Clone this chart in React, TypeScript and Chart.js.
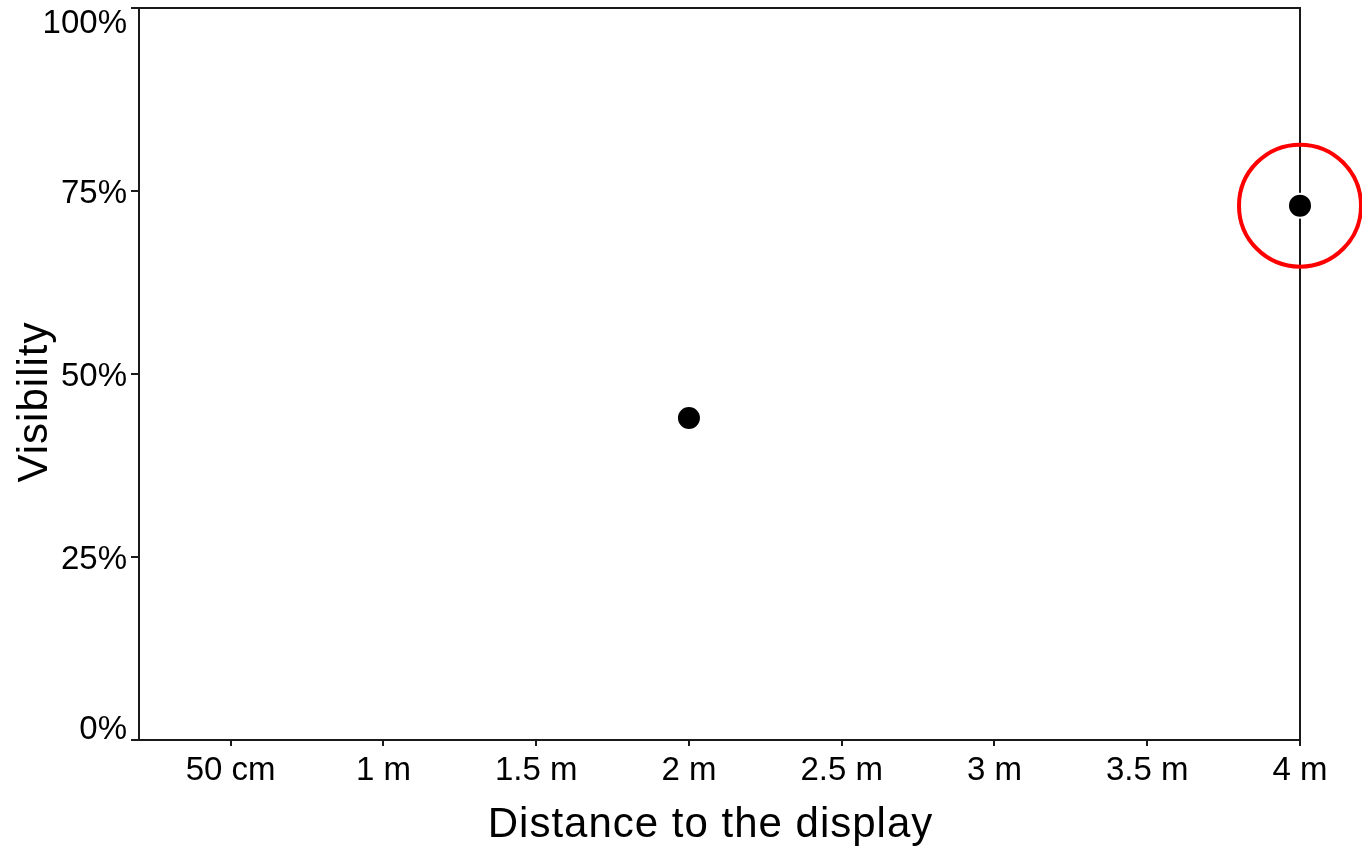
import React, { useEffect, useRef } from "react";
import { Chart, registerables } from "chart.js";

Chart.register(...registerables);

// ---- data ----
const xTickValues = [0.5, 1, 1.5, 2, 2.5, 3, 3.5, 4];
const xTickLabels = ["50 cm", "1 m", "1.5 m", "2 m", "2.5 m", "3 m", "3.5 m", "4 m"];
const yTickValues = [0, 25, 50, 75, 100];
const yTickLabels = ["0%", "25%", "50%", "75%", "100%"];
const distances = [2, 4];
const visibility = [44, 73];
const highlightDistances = [4];
const highlightVisibility = [73];
const xTitle = "Distance to the display";
const yTitle = "Visibility";
const xMin = 0.2;
const xMax = 4;
const yMin = 0;
const yMax = 100;

// ---- styles ----
const FONT_FAMILY = '"Liberation Sans", Arial, Helvetica, sans-serif';
const TICK_FONT_SIZE = 33;
const TITLE_FONT_SIZE = 42;
const AXIS_COLOR = "#1a1a1a";

const textPlugin = {
  id: "axisText",
  afterDraw(chart: any) {
    const { ctx, chartArea, scales } = chart;
    const yScale = scales.y;
    ctx.save();
    ctx.fillStyle = "#000000";
    // y tick labels, kept inside the plot's vertical extent
    ctx.font = `${TICK_FONT_SIZE}px ${FONT_FAMILY}`;
    ctx.textAlign = "right";
    ctx.textBaseline = "alphabetic";
    const half = TICK_FONT_SIZE * 0.716 / 2;
    yTickValues.forEach((v, i) => {
      const p = yScale.getPixelForValue(v);
      const c = Math.min(Math.max(p, chartArea.top + half + 1.5), chartArea.bottom - half - 1.5);
      ctx.fillText(yTickLabels[i], chartArea.left - 12, c + half);
    });
    // axis titles
    ctx.font = `${TITLE_FONT_SIZE}px ${FONT_FAMILY}`;
    try { (ctx as any).letterSpacing = "1px"; } catch (e) {}
    ctx.textAlign = "center";
    ctx.fillText(xTitle, (chartArea.left + chartArea.right) / 2 - 9, chartArea.bottom + 97);
    ctx.translate(47, (chartArea.top + chartArea.bottom) / 2 + 28);
    ctx.rotate(-Math.PI / 2);
    ctx.fillText(yTitle, 0, 0);
    ctx.restore();
  },
};

export default function App() {
  const canvasRef = useRef<HTMLCanvasElement | null>(null);

  useEffect(() => {
    const canvas = canvasRef.current;
    if (!canvas) return;
    const chart = new Chart(canvas, {
      type: "scatter",
      data: {
        datasets: [
          {
            label: "highlight",
            data: highlightDistances.map((x, i) => ({ x, y: highlightVisibility[i] })),
            pointRadius: 61,
            pointBackgroundColor: "rgba(0,0,0,0)",
            pointBorderColor: "#ff0000",
            pointBorderWidth: 4,
            clip: false,
            order: 2,
          } as any,
          {
            label: "Visibility",
            data: distances.map((x, i) => ({ x, y: visibility[i] })),
            pointRadius: 12,
            pointBackgroundColor: "#000000",
            pointBorderColor: "#ffffff",
            pointBorderWidth: 2,
            clip: false,
            order: 1,
          } as any,
        ],
      },
      options: {
        responsive: false,
        animation: false,
        events: [],
        layout: { padding: 0, autoPadding: false },
        plugins: {
          legend: { display: false },
          tooltip: { enabled: false },
          title: { display: false },
        },
        scales: {
          x: {
            type: "linear",
            position: "bottom",
            min: xMin,
            max: xMax,
            afterBuildTicks: (s: any) => {
              s.ticks = xTickValues.map((v) => ({ value: v }));
            },
            afterFit: (s: any) => {
              s.height = 112;
            },
            ticks: {
              autoSkip: false,
              maxRotation: 0,
              color: "#000000",
              padding: 5,
              font: { size: TICK_FONT_SIZE, family: FONT_FAMILY },
              callback: (_v: any, i: number) => xTickLabels[i] ?? "",
            },
            grid: {
              display: true,
              drawOnChartArea: false,
              drawTicks: true,
              tickLength: 6,
              color: AXIS_COLOR,
              lineWidth: 2,
            },
            border: { display: true, color: AXIS_COLOR, width: 2 },
          },
          x2: {
            type: "linear",
            position: "top",
            min: xMin,
            max: xMax,
            afterFit: (s: any) => {
              s.height = 8;
            },
            ticks: { display: false },
            grid: { display: false, drawTicks: false },
            border: { display: true, color: AXIS_COLOR, width: 2 },
          },
          y: {
            type: "linear",
            position: "left",
            min: yMin,
            max: yMax,
            afterBuildTicks: (s: any) => {
              s.ticks = yTickValues.map((v) => ({ value: v }));
            },
            afterFit: (s: any) => {
              s.width = 139;
            },
            ticks: { display: false },
            grid: {
              display: true,
              drawOnChartArea: false,
              drawTicks: true,
              tickLength: 8,
              color: AXIS_COLOR,
              lineWidth: 2,
            },
            border: { display: true, color: AXIS_COLOR, width: 2 },
          },
          y2: {
            type: "linear",
            position: "right",
            min: yMin,
            max: yMax,
            afterFit: (s: any) => {
              s.width = 62;
            },
            ticks: { display: false },
            grid: { display: false, drawTicks: false },
            border: { display: true, color: AXIS_COLOR, width: 2 },
          },
        },
      } as any,
      plugins: [textPlugin],
    });
    return () => chart.destroy();
  }, []);

  return (
    <div style={{ position: "fixed", left: 0, top: 0, width: 1362, height: 852, background: "#ffffff" }}>
      <canvas ref={canvasRef} width={1362} height={852} style={{ display: "block" }} />
    </div>
  );
}
